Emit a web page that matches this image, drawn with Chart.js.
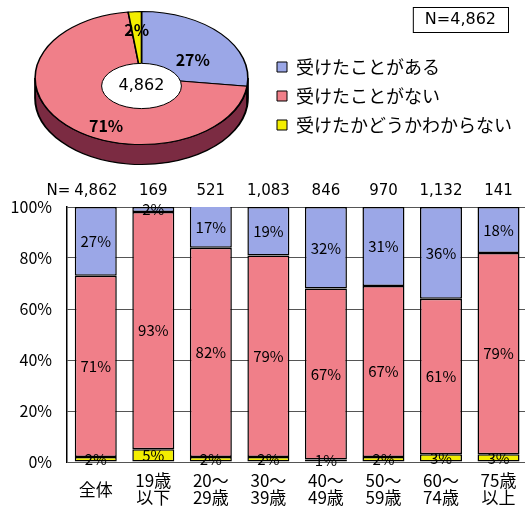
<!DOCTYPE html>
<html lang="ja">
<head>
<meta charset="utf-8">
<script src="https://cdn.jsdelivr.net/npm/chart.js@4"></script>
<style>
  html, body { margin: 0; padding: 0; background: #fff; overflow: hidden; }
  #wrap { position: relative; width: 525px; height: 506px; overflow: hidden; }
  #pieBox { position: absolute; left: 0; top: 0; width: 525px; height: 178px; }
  #barBox { position: absolute; left: 0; top: 178px; width: 536px; height: 328px; }
</style>
</head>
<body>
<div id="wrap">
  <div id="pieBox"><canvas id="pie"></canvas></div>
  <div id="barBox"><canvas id="bar"></canvas></div>
</div>
<script>
const FONT = '"Noto Sans CJK JP", "Liberation Sans", sans-serif';
const NUM_FONT = '"DejaVu Sans", sans-serif';

// 全体の回答
const answerLabels = ['受けたことがある', '受けたことがない', '受けたかどうかわからない'];
const totalShares = [27, 71, 2];
const totalN = '4,862';

// 年齢別
const ageLabels = [['全体'], ['19歳', '以下'], ['20〜', '29歳'], ['30〜', '39歳'], ['40〜', '49歳'], ['50〜', '59歳'], ['60〜', '74歳'], ['75歳', '以上']];
const ageN = ['4,862', '169', '521', '1,083', '846', '970', '1,132', '141'];
const hadCheck = [27, 2, 17, 19, 32, 31, 36, 18];
const noCheck = [71, 93, 82, 79, 67, 67, 61, 79];
const unknown = [2, 5, 2, 2, 1, 2, 3, 3];
const yTicks = [0, 20, 40, 60, 80, 100];

const BLUE = '#9ba7e7';
const PINK = '#f07f89';
const YELLOW = '#f3ee00';

// 円グラフを横に引き伸ばして側面を付ける
const tilt = {
  id: 'tilt',
  afterLayout(chart, args, opts) {
    // 凡例を少し下げる
    chart.legend.top += opts.legendShift;
    chart.legend.bottom += opts.legendShift;
  },
  beforeDatasetsDraw(chart, args, opts) {
    const ctx = chart.ctx;
    const arcs = chart.getDatasetMeta(0).data;
    const cx = arcs[0].x, cy = arcs[0].y, r = arcs[0].outerRadius;
    ctx.save();
    ctx.translate(cx, 0);
    ctx.scale(opts.stretch, 1);
    ctx.translate(-cx, 0);
    arcs.forEach((arc, i) => {
      const a0 = Math.max(arc.startAngle, 0);
      const a1 = Math.min(arc.endAngle, Math.PI);
      if (a1 <= a0) return;
      ctx.beginPath();
      ctx.arc(cx, cy + opts.depth, r, a0, a1);
      ctx.arc(cx, cy, r, a1, a0, true);
      ctx.closePath();
      ctx.fillStyle = opts.sideColors[i];
      ctx.fill();
      ctx.lineWidth = 1.2;
      ctx.strokeStyle = '#000';
      ctx.stroke();
    });
  },
  afterDatasetsDraw(chart, args, opts) {
    const ctx = chart.ctx;
    ctx.restore();
    const arcs = chart.getDatasetMeta(0).data;
    const cx = arcs[0].x, cy = arcs[0].y, r = arcs[0].outerRadius;
    ctx.save();
    // 中央の白い楕円と総数
    const hy = cy + r * opts.hole.dy;
    ctx.beginPath();
    ctx.ellipse(cx, hy, r * opts.hole.rx * opts.stretch, r * opts.hole.ry, 0, 0, Math.PI * 2);
    ctx.fillStyle = '#fff';
    ctx.fill();
    ctx.lineWidth = 1;
    ctx.strokeStyle = '#000';
    ctx.stroke();
    ctx.fillStyle = '#000';
    ctx.textAlign = 'center';
    ctx.textBaseline = 'middle';
    ctx.font = '16px ' + NUM_FONT;
    ctx.fillText(totalN, cx, hy);
    ctx.font = 'bold 16px ' + FONT;
    arcs.forEach((arc, i) => {
      const [f, rf] = opts.labelAt[i];
      const a = arc.startAngle + (arc.endAngle - arc.startAngle) * f;
      const x = cx + Math.cos(a) * r * rf * opts.stretch;
      const y = cy + Math.sin(a) * r * rf;
      ctx.fillText(chart.data.datasets[0].data[i] + '%', x, y);
    });
    ctx.restore();
  },
  afterDraw(chart) {
    // 右上の N 表示
    const ctx = chart.ctx;
    const text = 'N=' + totalN;
    ctx.save();
    ctx.font = '16px ' + NUM_FONT;
    const w = ctx.measureText(text).width + 24;
    const right = chart.width - 17;
    ctx.fillStyle = '#fff';
    ctx.fillRect(right - w, 7, w, 25);
    ctx.strokeStyle = '#000';
    ctx.lineWidth = 1;
    ctx.strokeRect(right - w + 0.5, 7.5, w, 25);
    ctx.fillStyle = '#000';
    ctx.textAlign = 'center';
    ctx.textBaseline = 'middle';
    ctx.fillText(text, right - w / 2, 20);
    ctx.restore();
  }
};

new Chart(document.getElementById('pie'), {
  type: 'pie',
  data: {
    labels: answerLabels,
    datasets: [{
      data: totalShares,
      backgroundColor: [BLUE, PINK, YELLOW],
      borderColor: '#000',
      borderWidth: 1
    }]
  },
  options: {
    responsive: true,
    maintainAspectRatio: false,
    animation: false,
    layout: { padding: { left: 17, top: 11, bottom: 33, right: 10 } },
    plugins: {
      legend: {
        position: 'right',
        labels: {
          color: '#000',
          font: { family: FONT, size: 18 },
          boxWidth: 10,
          boxHeight: 10,
          padding: 11
        }
      },
      tooltip: { enabled: false },
      tilt: {
        stretch: 1.6,
        depth: 20,
        legendShift: 18,
        hole: { rx: 0.375, ry: 0.34, dy: 0.12 },
        sideColors: ['#4b5392', '#7b2b42', '#8a8600'],
        labelAt: [[0.63, 0.55], [0.42, 0.8], [0.5, 0.72]]
      }
    }
  },
  plugins: [tilt]
});

// 棒の中の割合と左上の「N=」
const barLabels = {
  id: 'barLabels',
  afterDatasetsDraw(chart) {
    const ctx = chart.ctx;
    const area = chart.chartArea;
    ctx.save();
    ctx.fillStyle = '#000';
    ctx.textAlign = 'center';
    ctx.textBaseline = 'middle';
    ctx.font = '15px ' + FONT;
    chart.data.datasets.forEach((ds, i) => {
      chart.getDatasetMeta(i).data.forEach((bar, j) => {
        const { x, y, base } = bar.getProps(['x', 'y', 'base'], true);
        const top = Math.max(y, area.top);
        ctx.fillText(ds.data[j] + '%', x, (top + base) / 2);
      });
    });
    const xTop = chart.scales.xTop;
    ctx.font = '15px ' + NUM_FONT;
    const w = ctx.measureText(ageN[0]).width;
    ctx.textAlign = 'right';
    ctx.fillText('N=', xTop.getPixelForTick(0) - w / 2 - 4, xTop.bottom - 7 - 9);
    ctx.restore();
  }
};

new Chart(document.getElementById('bar'), {
  type: 'bar',
  data: {
    labels: ageLabels,
    datasets: [
      { label: answerLabels[2], data: unknown, backgroundColor: YELLOW },
      { label: answerLabels[1], data: noCheck, backgroundColor: PINK },
      { label: answerLabels[0], data: hadCheck, backgroundColor: BLUE }
    ].map(d => Object.assign(d, {
      borderColor: '#000',
      borderWidth: 1.5,
      borderSkipped: false,
      categoryPercentage: 1,
      barPercentage: 0.73
    }))
  },
  options: {
    responsive: true,
    maintainAspectRatio: false,
    animation: false,
    layout: { padding: 0 },
    plugins: {
      legend: { display: false },
      tooltip: { enabled: false }
    },
    scales: {
      x: {
        stacked: true,
        afterFit: axis => { axis.height = 44; },
        grid: { display: false, drawTicks: false },
        border: { display: false },
        ticks: {
          color: '#000',
          font: { family: FONT, size: 17, lineHeight: 0.95 },
          maxRotation: 0,
          autoSkip: false,
          crossAlign: 'center',
          padding: 19
        }
      },
      xTop: {
        type: 'category',
        position: 'top',
        labels: ageN,
        offset: true,
        afterFit: axis => { axis.height = 29; },
        grid: { display: false, drawTicks: false },
        border: { display: false },
        ticks: {
          color: '#000',
          font: { family: NUM_FONT, size: 15, lineHeight: 1.2 },
          maxRotation: 0,
          autoSkip: false,
          padding: 7
        }
      },
      y: {
        stacked: true,
        min: 0,
        max: 100,
        afterFit: axis => { axis.width = 67; },
        afterBuildTicks: axis => { axis.ticks = yTicks.map(v => ({ value: v })); },
        grid: { color: '#555', lineWidth: 1, drawTicks: false },
        border: { color: '#000', width: 1.5 },
        ticks: {
          color: '#000',
          font: { family: FONT, size: 16 },
          padding: 15,
          callback: v => v + '%'
        }
      }
    }
  },
  plugins: [barLabels]
});
</script>
</body>
</html>
